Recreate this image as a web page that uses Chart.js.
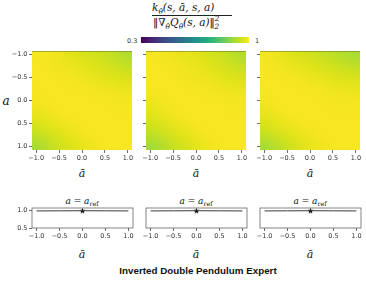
<!DOCTYPE html>
<html>
<head>
<meta charset="utf-8">
<script src="https://cdn.jsdelivr.net/npm/chart.js@4.4.1/dist/chart.umd.min.js"></script>
<style>
    html, body { margin: 0; padding: 0; background: #fff; }
    #fig { position: relative; width: 366px; height: 281px; overflow: hidden; }
    #fig canvas { position: absolute; }
    .t { position: absolute; white-space: nowrap; color: #111; line-height: 1; }
    .m { font-family: "DejaVu Serif", "Liberation Serif", serif; font-style: italic; }
    .c { transform: translate(-50%, -50%); }
    .up { font-style: normal; }
    .bars { font-style: normal; font-family: "DejaVu Sans", sans-serif; font-weight: normal; }
    sub, sup { font-size: 70%; line-height: 0; }
    #cbar { position: absolute; left: 141px; top: 37px; width: 108px; height: 6px; }
</style>
</head>
<body>
<div id="fig">
    <div class="t m" style="left:152px;top:2px;font-size:10.5px;">k<sub>θ</sub>(s, ā, s, a)</div>
    <div style="position:absolute;left:152px;top:15px;width:80px;height:0;border-top:0.8px solid #222;"></div>
    <div class="t m" style="left:153px;top:17px;font-size:10.5px;"><span class="bars">‖</span><span class="up">∇</span><sub>θ</sub>Q<sub>θ</sub>(s, a)<span class="bars">‖</span><sup style="position:relative;top:-1px;">2</sup><sub style="margin-left:-5px;">2</sub></div>
    <div id="cbar"></div>
    <div class="t" style="left:127px;top:37px;font:6.5px 'DejaVu Sans';color:#333;">0.3</div>
    <div class="t" style="left:255px;top:37px;font:6.5px 'DejaVu Sans';color:#333;">1</div>
    <div class="t m c" style="left:6px;top:101px;font-size:12px;">a</div>
    <div class="t m c" style="left:82px;top:173px;font-size:11px;">ā</div>
    <div class="t m c" style="left:196px;top:173px;font-size:11px;">ā</div>
    <div class="t m c" style="left:310px;top:173px;font-size:11px;">ā</div>
    <div class="t m c" style="left:82px;top:201px;font-size:9px;">a = a<sub class="up">ref</sub></div>
    <div class="t m c" style="left:196px;top:201px;font-size:9px;">a = a<sub class="up">ref</sub></div>
    <div class="t m c" style="left:310px;top:201px;font-size:9px;">a = a<sub class="up">ref</sub></div>
    <div class="t m c" style="left:82px;top:254px;font-size:11px;">ā</div>
    <div class="t m c" style="left:196px;top:254px;font-size:11px;">ā</div>
    <div class="t m c" style="left:310px;top:254px;font-size:11px;">ā</div>
    <div class="t c" style="left:198px;top:270px;font:bold 9.8px 'Liberation Sans', Arial, sans-serif;">Inverted Double Pendulum Expert</div>
</div>
<script>
"use strict";

// grid of the kernel images: columns are ā, rows are a
const aBarValues = [-1, -0.75, -0.5, -0.25, 0, 0.25, 0.5, 0.75, 1];
const aValues = [-1, -0.75, -0.5, -0.25, 0, 0.25, 0.5, 0.75, 1];
const axisTicks = [-1, -0.5, 0, 0.5, 1];

const kernelLeft = [
    [0.99, 0.99, 0.98, 0.97, 0.962, 0.952, 0.942, 0.93, 0.917],
    [0.995, 0.99, 0.985, 0.98, 0.972, 0.965, 0.955, 0.945, 0.937],
    [0.995, 0.995, 0.99, 0.988, 0.985, 0.978, 0.97, 0.965, 0.96],
    [0.992, 0.995, 0.995, 0.992, 0.992, 0.988, 0.985, 0.98, 0.978],
    [0.988, 0.992, 0.995, 0.995, 0.995, 0.992, 0.992, 0.988, 0.988],
    [0.978, 0.985, 0.992, 0.995, 0.995, 0.995, 0.995, 0.992, 0.992],
    [0.96, 0.97, 0.98, 0.988, 0.992, 0.995, 0.995, 0.995, 0.995],
    [0.935, 0.95, 0.962, 0.975, 0.985, 0.992, 0.995, 0.995, 0.995],
    [0.907, 0.927, 0.947, 0.962, 0.975, 0.985, 0.992, 0.995, 0.995]
];
const kernelMiddle = [
    [0.992, 0.99, 0.982, 0.975, 0.968, 0.958, 0.948, 0.932, 0.918],
    [0.995, 0.992, 0.988, 0.985, 0.978, 0.97, 0.96, 0.95, 0.94],
    [0.995, 0.995, 0.992, 0.988, 0.985, 0.98, 0.972, 0.965, 0.96],
    [0.992, 0.995, 0.995, 0.992, 0.992, 0.988, 0.985, 0.98, 0.978],
    [0.982, 0.988, 0.992, 0.995, 0.995, 0.992, 0.992, 0.988, 0.988],
    [0.97, 0.98, 0.988, 0.992, 0.995, 0.995, 0.995, 0.992, 0.992],
    [0.952, 0.962, 0.975, 0.985, 0.992, 0.995, 0.995, 0.995, 0.995],
    [0.928, 0.942, 0.958, 0.97, 0.982, 0.992, 0.995, 0.995, 0.995],
    [0.902, 0.918, 0.938, 0.955, 0.97, 0.982, 0.992, 0.995, 0.995]
];
const kernelRight = [
    [0.988, 0.98, 0.97, 0.96, 0.95, 0.94, 0.93, 0.92, 0.91],
    [0.992, 0.988, 0.982, 0.975, 0.968, 0.958, 0.95, 0.94, 0.932],
    [0.995, 0.992, 0.99, 0.988, 0.98, 0.975, 0.968, 0.962, 0.958],
    [0.992, 0.995, 0.995, 0.992, 0.99, 0.988, 0.982, 0.98, 0.975],
    [0.988, 0.992, 0.995, 0.995, 0.995, 0.992, 0.99, 0.988, 0.988],
    [0.978, 0.985, 0.992, 0.995, 0.995, 0.995, 0.992, 0.992, 0.992],
    [0.96, 0.97, 0.98, 0.988, 0.992, 0.995, 0.995, 0.995, 0.995],
    [0.935, 0.95, 0.962, 0.975, 0.985, 0.992, 0.995, 0.995, 0.995],
    [0.905, 0.922, 0.942, 0.96, 0.975, 0.985, 0.992, 0.995, 0.995]
];

// slices at a = a_ref
const sliceX = [-1, -0.5, 0, 0.5, 1];
const sliceLeft = [0.995, 0.998, 1.0, 0.998, 0.995];
const sliceMiddle = [0.995, 0.998, 1.0, 0.998, 0.995];
const sliceRight = [0.995, 0.998, 1.0, 0.998, 0.995];
const refPoint = { x: 0, y: 1.0 };
const sliceYTicks = [0.5, 1.0];

const VMIN = 0.3, VMAX = 1;

const VIRIDIS = [
    [0, [68, 1, 84]], [0.1, [72, 36, 117]], [0.2, [65, 68, 135]], [0.3, [53, 95, 141]],
    [0.4, [42, 120, 142]], [0.5, [33, 145, 140]], [0.6, [34, 168, 132]], [0.7, [68, 191, 112]],
    [0.8, [122, 209, 81]], [0.85, [155, 217, 60]], [0.9, [189, 223, 38]], [0.95, [223, 227, 24]],
    [1, [253, 231, 37]]
];

const viridis = t => {
    t = Math.max(0, Math.min(1, t));
    for (let i = 1; i < VIRIDIS.length; i++) {
        const [t1, c1] = VIRIDIS[i], [t0, c0] = VIRIDIS[i - 1];
        if (t <= t1) {
            const f = (t - t0) / (t1 - t0);
            return c0.map((v, k) => Math.round(v + (c1[k] - v) * f));
        }
    }
    return VIRIDIS[VIRIDIS.length - 1][1];
};

document.getElementById("cbar").style.background =
    "linear-gradient(to right, " + VIRIDIS.map(([t, c]) => `rgb(${c.join(",")}) ${t * 100}%`).join(", ") + ")";

const fmt = v => (v < 0 ? "\u2212" : "") + Math.abs(v).toFixed(1);

const TICK_FONT = { family: "DejaVu Sans", size: 6.5 };
const TICK_COLOR = "#333";
const AXIS_COLOR = "#444";

const heatPlugin = {
    id: "heat",
    beforeDatasetsDraw (chart) {
        const grid = chart.options.plugins.heat.grid;
        if (!grid) return;
        const rows = grid.length, cols = grid[0].length;
        const off = document.createElement("canvas");
        off.width = cols;
        off.height = rows;
        const octx = off.getContext("2d");
        const img = octx.createImageData(cols, rows);
        grid.forEach((row, i) => row.forEach((v, j) => {
            const c = viridis((v - VMIN) / (VMAX - VMIN)), p = (i * cols + j) * 4;
            img.data[p] = c[0]; img.data[p + 1] = c[1]; img.data[p + 2] = c[2]; img.data[p + 3] = 255;
        }));
        octx.putImageData(img, 0, 0);

        const {x, y} = chart.scales, area = chart.chartArea, ctx = chart.ctx;
        const hx = (aBarValues[1] - aBarValues[0]) / 2, hy = (aValues[1] - aValues[0]) / 2;
        const x0 = x.getPixelForValue(aBarValues[0] - hx), x1 = x.getPixelForValue(aBarValues[cols - 1] + hx);
        const y0 = y.getPixelForValue(aValues[0] - hy), y1 = y.getPixelForValue(aValues[rows - 1] + hy);
        ctx.save();
        ctx.beginPath();
        ctx.rect(area.left, area.top, area.right - area.left, area.bottom - area.top);
        ctx.clip();
        ctx.imageSmoothingEnabled = true;
        ctx.imageSmoothingQuality = "high";
        ctx.drawImage(off, x0, y0, x1 - x0, y1 - y0);
        // thin darker rim along the top edge of the image
        ctx.fillStyle = "rgba(110, 120, 40, 0.55)";
        ctx.fillRect(area.left, area.top, area.right - area.left, 1);
        ctx.restore();
    },
    afterDraw (chart) {
        const box = chart.options.plugins.heat.box;
        if (!box) return;
        const a = chart.chartArea, ctx = chart.ctx;
        ctx.save();
        ctx.strokeStyle = box;
        ctx.lineWidth = 0.8;
        ctx.strokeRect(a.left, a.top, a.right - a.left, a.bottom - a.top);
        ctx.restore();
    }
};

const starImage = (() => {
    const c = document.createElement("canvas");
    c.width = 7; c.height = 7;
    const g = c.getContext("2d");
    g.fillStyle = "#000";
    g.beginPath();
    for (let i = 0; i < 10; i++) {
        const r = i % 2 ? 1.3 : 3.2, ang = -Math.PI / 2 + i * Math.PI / 5;
        g[i ? "lineTo" : "moveTo"](3.5 + r * Math.cos(ang), 3.7 + r * Math.sin(ang));
    }
    g.closePath();
    g.fill();
    return c;
})();

const LEFT = 34, TOP = 6, RIGHT = 6, BOTTOM = 16;

const place = (left, top, width, height) => {
    const canvas = document.createElement("canvas");
    const w = LEFT + width + RIGHT, h = TOP + height + BOTTOM;
    canvas.style.left = (left - LEFT) + "px";
    canvas.style.top = (top - TOP) + "px";
    canvas.style.width = w + "px";
    canvas.style.height = h + "px";
    canvas.width = w;
    canvas.height = h;
    document.getElementById("fig").appendChild(canvas);
    return canvas;
};

const axis = (min, max, ticks, opts) => Object.assign({
    type: "linear",
    min, max,
    afterBuildTicks: s => { s.ticks = ticks.map(value => ({ value })); },
    grid: { drawOnChartArea: false, drawTicks: true, tickLength: 3, tickColor: AXIS_COLOR, tickWidth: 0.8 },
    border: { display: false },
    ticks: { font: TICK_FONT, color: TICK_COLOR, padding: 1.5, maxRotation: 0, autoSkip: false, callback: v => fmt(v) }
}, opts);

const heatmap = (left, grid, showLabels) => new Chart(place(left, 51, 100, 99), {
    type: "scatter",
    data: { datasets: [{ data: [] }] },
    options: {
        responsive: false,
        animation: false,
        layout: { padding: { left: 0, top: TOP, right: RIGHT, bottom: 0 } },
        plugins: { legend: { display: false }, tooltip: { enabled: false }, heat: { grid, box: null } },
        scales: {
            x: axis(-1.09, 1.09, axisTicks, { afterFit: s => { s.height = BOTTOM; } }),
            y: axis(-1.08, 1.08, axisTicks, {
                reverse: true,
                afterFit: s => { s.width = LEFT; },
                ticks: { font: TICK_FONT, color: TICK_COLOR, padding: 1.5, autoSkip: false, callback: v => showLabels ? fmt(v) : "" }
            })
        }
    },
    plugins: [heatPlugin]
});

const slice = (left, values, showY) => new Chart(place(left, 208, 101, 20), {
    type: "line",
    data: {
        datasets: [
            { data: sliceX.map((x, i) => ({ x, y: values[i] })), borderColor: "#3a3a3a", borderWidth: 1, pointRadius: 0 },
            { data: [refPoint], showLine: false, pointStyle: starImage, pointRadius: 3.5 }
        ]
    },
    options: {
        responsive: false,
        animation: false,
        layout: { padding: { left: 0, top: TOP, right: RIGHT, bottom: 0 } },
        plugins: { legend: { display: false }, tooltip: { enabled: false }, heat: { grid: null, box: "#666" } },
        scales: {
            x: axis(-1.1, 1.1, axisTicks, { afterFit: s => { s.height = BOTTOM; } }),
            y: axis(0.5, 1.08, showY ? sliceYTicks : [], {
                afterFit: s => { s.width = LEFT; },
                ticks: { font: TICK_FONT, color: TICK_COLOR, padding: 1.5, autoSkip: false, callback: v => fmt(v) }
            })
        }
    },
    plugins: [heatPlugin]
});

heatmap(32, kernelLeft, true);
heatmap(146, kernelMiddle, false);
heatmap(260, kernelRight, false);

slice(32, sliceLeft, true);
slice(146, sliceMiddle, false);
slice(260, sliceRight, false);
</script>
</body>
</html>
